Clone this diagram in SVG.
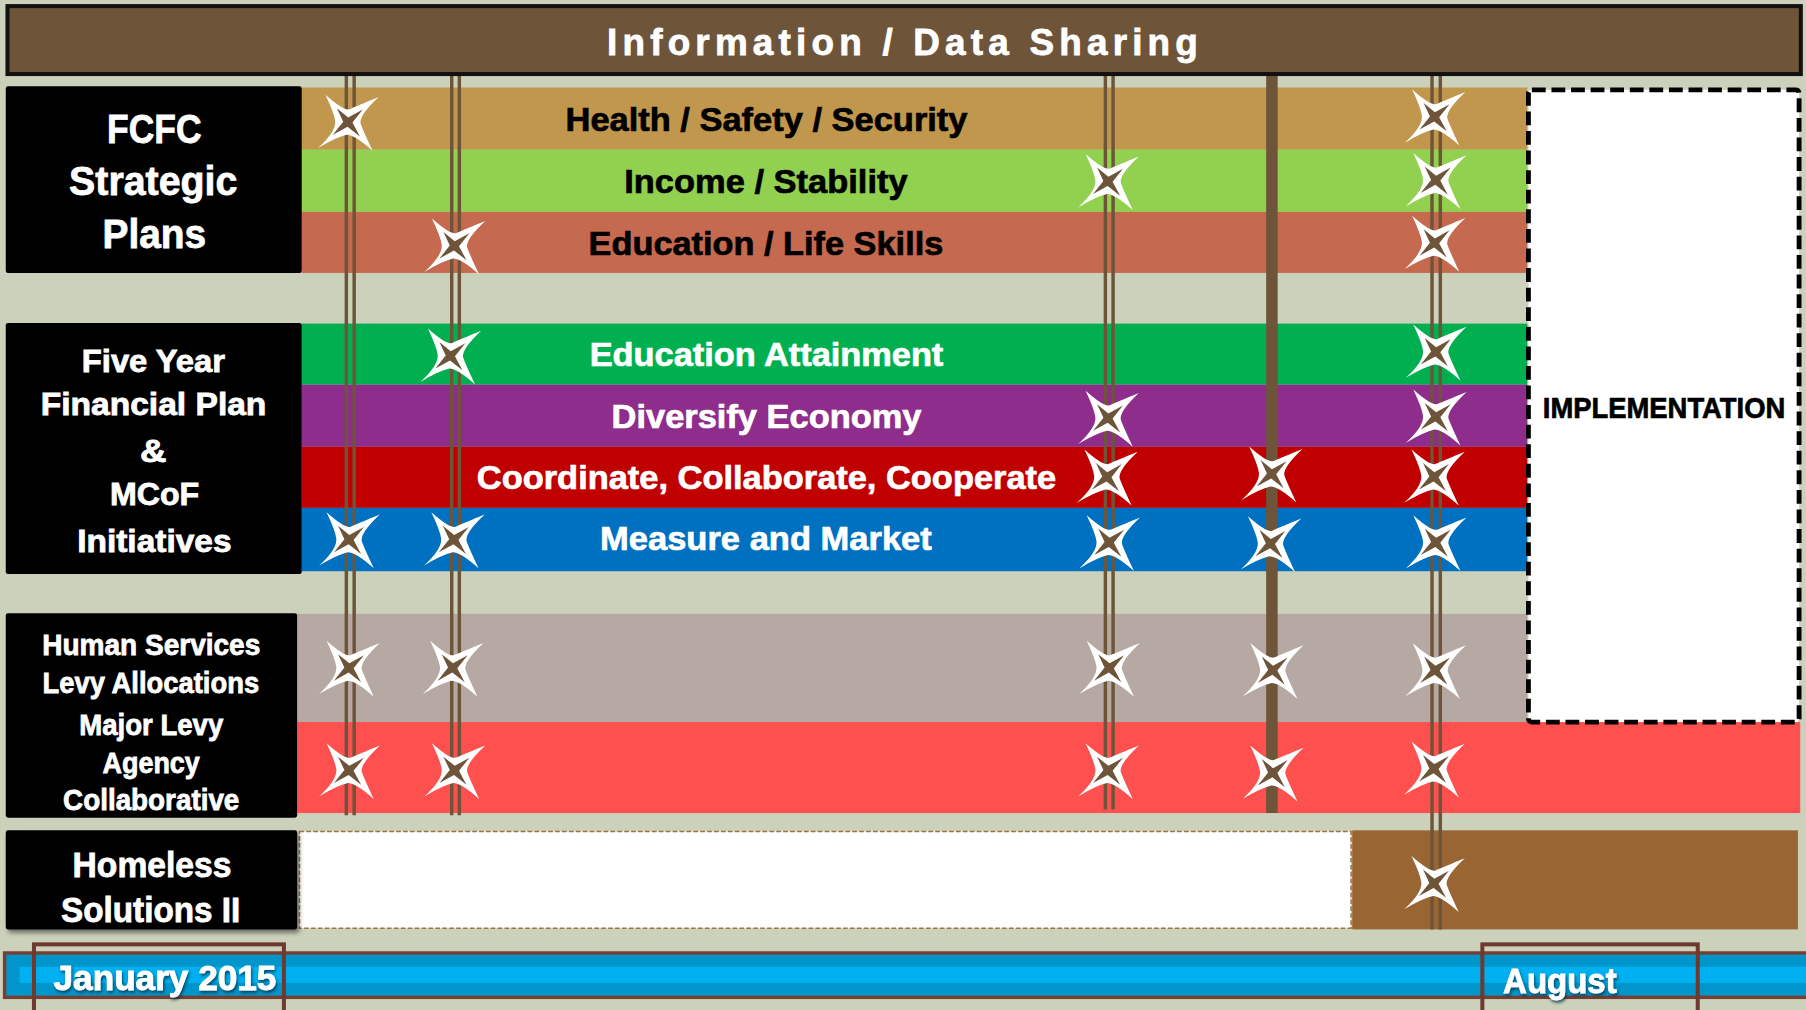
<svg xmlns="http://www.w3.org/2000/svg" xmlns:xlink="http://www.w3.org/1999/xlink" width="1806" height="1010" viewBox="0 0 1806 1010">
<defs>
<style>
.lbl{font-family:"Liberation Sans Narrow","Liberation Sans",Arial,sans-serif;font-weight:bold;fill:#fff;stroke:#fff;stroke-width:0.7px}
.band{font-family:"Liberation Sans Narrow","Liberation Sans",Arial,sans-serif;font-weight:bold;font-size:29px;stroke-width:0.6px}
.dark{fill:#000;stroke:#000}
.light{fill:#fff;stroke:#fff}
.box{fill:#000}
.vl{stroke:#6E5439;stroke-width:3;fill:none}
</style>
<filter id="shadow" x="-10%" y="-10%" width="125%" height="130%">
<feDropShadow dx="2" dy="3" stdDeviation="2" flood-color="#000" flood-opacity="0.45"/>
</filter>
<filter id="tshadow" x="-10%" y="-20%" width="125%" height="150%">
<feDropShadow dx="1" dy="2" stdDeviation="1.2" flood-color="#00304a" flood-opacity="0.8"/>
</filter>
<g id="star">
<path d="M-19.5,-23.7 Q-4,-10 1,-11 Q8,-14 26.8,-21.7 Q10,-6 11,1 Q13,7 21.5,24.9 Q6,11 -1,11 Q-10,13 -26,22.6 Q-10,8 -11,-1 Q-12,-8 -19.5,-23.7 Z" fill="#fff"/>
<polygon points="-9.5,-12 0.3,-4 13,-11 4,0.3 10.5,12.5 -0.3,4 -13,11 -4,-0.3" fill="#6E5439"/>
</g>
</defs>
<rect x="0" y="0" width="1806" height="1010" fill="#CCD1BB"/>
<g transform="scale(1.15179 1.15165)">

<g id="bands">
<rect id="band-health" x="262" y="76" width="1064" height="54" fill="#C0974C"/>
<rect id="band-income" x="262" y="130" width="1064" height="54" fill="#92D050"/>
<rect id="band-edulife" x="262" y="184" width="1064" height="53" fill="#C5694F"/>
<rect id="band-eduatt" x="262" y="281" width="1064" height="53" fill="#00B050"/>
<rect id="band-diversify" x="262" y="334" width="1064" height="54" fill="#8E2D8B"/>
<rect id="band-coord" x="262" y="388" width="1064" height="53" fill="#C00000"/>
<rect id="band-measure" x="262" y="441" width="1064" height="55" fill="#0070C0"/>
<rect id="band-human" x="258" y="533" width="1068" height="95" fill="#B6A8A3"/>
<rect id="band-levy" x="258" y="627" width="1305" height="79" fill="#FF5050"/>
<rect id="band-homeless-white" x="260" y="722" width="913" height="84" fill="#fff" stroke="#A0703F" stroke-width="1.3" stroke-dasharray="4 2"/>
<rect id="band-homeless-brown" x="1174" y="721" width="387" height="86" fill="#996633"/>
</g>

<g id="band-texts">
<text class="band dark" x="491" y="114" textLength="349" lengthAdjust="spacingAndGlyphs">Health / Safety / Security</text>
<text class="band dark" x="542" y="168" textLength="246" lengthAdjust="spacingAndGlyphs">Income / Stability</text>
<text class="band dark" x="511" y="221" textLength="308" lengthAdjust="spacingAndGlyphs">Education / Life Skills</text>
<text class="band light" x="512" y="318" textLength="307" lengthAdjust="spacingAndGlyphs">Education Attainment</text>
<text class="band light" x="531" y="372" textLength="269" lengthAdjust="spacingAndGlyphs">Diversify Economy</text>
<text class="band light" x="414" y="425" textLength="503" lengthAdjust="spacingAndGlyphs">Coordinate, Collaborate, Cooperate</text>
<text class="band light" x="521" y="478" textLength="288" lengthAdjust="spacingAndGlyphs">Measure and Market</text>
</g>

<g id="implementation">
<rect x="1327" y="78" width="235" height="549" rx="3" fill="#fff" stroke="#000" stroke-width="4.2" stroke-dasharray="12 5"/>
<text class="band dark" x="1339.5" y="363" textLength="210.5" lengthAdjust="spacingAndGlyphs" style="font-size:26px">IMPLEMENTATION</text>
</g>

<g id="connectors">
<line class="vl" x1="300.7" y1="64" x2="300.7" y2="708"/>
<line class="vl" x1="307.5" y1="64" x2="307.5" y2="708"/>
<line class="vl" x1="392.2" y1="64" x2="392.2" y2="708"/>
<line class="vl" x1="398.8" y1="64" x2="398.8" y2="708"/>
<line class="vl" x1="959.7" y1="64" x2="959.7" y2="703"/>
<line class="vl" x1="966.4" y1="64" x2="966.4" y2="703"/>
<line x1="1104.3" y1="64" x2="1104.3" y2="706" stroke="#6E5439" stroke-width="10"/>
<line class="vl" x1="1243.3" y1="64" x2="1243.3" y2="807"/>
<line class="vl" x1="1250.5" y1="64" x2="1250.5" y2="807"/>
</g>

<g id="header">
<rect x="6.5" y="5.3" width="1557" height="59" fill="#6E5439" stroke="#111" stroke-width="3.5"/>
<text class="lbl" x="527" y="48" style="font-family:'Liberation Sans',Arial,sans-serif;font-size:32px" textLength="513" lengthAdjust="spacing">Information / Data Sharing</text>
</g>

<g id="fcfc">
<rect class="box" x="5" y="75" width="257" height="162" rx="2"/>
<text class="lbl" x="93" y="124.4" font-size="36" textLength="82" lengthAdjust="spacingAndGlyphs">FCFC</text>
<text class="lbl" x="60" y="169.5" font-size="36" textLength="146" lengthAdjust="spacingAndGlyphs">Strategic</text>
<text class="lbl" x="89" y="215.6" font-size="36" textLength="90" lengthAdjust="spacingAndGlyphs">Plans</text>
</g>

<g id="five-year">
<rect class="box" x="5" y="280.5" width="257" height="218" rx="2"/>
<text class="lbl" x="71" y="322.7" font-size="27" textLength="124.4" lengthAdjust="spacingAndGlyphs">Five Year</text>
<text class="lbl" x="35.3" y="360.3" font-size="27" textLength="196" lengthAdjust="spacingAndGlyphs">Financial Plan</text>
<text class="lbl" x="121.5" y="400.8" font-size="27" textLength="23" lengthAdjust="spacingAndGlyphs">&amp;</text>
<text class="lbl" x="95.5" y="438.5" font-size="27" textLength="77.5" lengthAdjust="spacingAndGlyphs">MCoF</text>
<text class="lbl" x="67" y="479" font-size="27" textLength="134" lengthAdjust="spacingAndGlyphs">Initiatives</text>
</g>

<g id="human-services">
<rect class="box" x="5" y="532.5" width="253" height="177.5" rx="2"/>
<text class="lbl" x="36.6" y="568.7" font-size="26" textLength="189.4" lengthAdjust="spacingAndGlyphs">Human Services</text>
<text class="lbl" x="37" y="601.4" font-size="26" textLength="188" lengthAdjust="spacingAndGlyphs">Levy Allocations</text>
<text class="lbl" x="68.8" y="638" font-size="26" textLength="125" lengthAdjust="spacingAndGlyphs">Major Levy</text>
<text class="lbl" x="89" y="671" font-size="26" textLength="84.5" lengthAdjust="spacingAndGlyphs">Agency</text>
<text class="lbl" x="54.8" y="703.3" font-size="26" textLength="153" lengthAdjust="spacingAndGlyphs">Collaborative</text>
</g>

<g id="homeless">
<rect class="box" x="5" y="721" width="253" height="86" rx="2" filter="url(#shadow)"/>
<text class="lbl" x="63" y="761.1" font-size="30" textLength="138" lengthAdjust="spacingAndGlyphs">Homeless</text>
<text class="lbl" x="53" y="800.3" font-size="30" textLength="155.6" lengthAdjust="spacingAndGlyphs">Solutions II</text>
</g>

<g id="stars">
<use xlink:href="#star" transform="translate(302,106)"/>
<use xlink:href="#star" transform="translate(1245.5,101.5)"/>
<use xlink:href="#star" transform="translate(962,157.5)"/>
<use xlink:href="#star" transform="translate(1246.5,156.5)"/>
<use xlink:href="#star" transform="translate(394.5,213.5)"/>
<use xlink:href="#star" transform="translate(1245.5,211)"/>
<use xlink:href="#star" transform="translate(391,309)"/>
<use xlink:href="#star" transform="translate(1246.5,305.5)"/>
<use xlink:href="#star" transform="translate(962,363)"/>
<use xlink:href="#star" transform="translate(1246.5,362)"/>
<use xlink:href="#star" transform="translate(961,414)"/>
<use xlink:href="#star" transform="translate(1104,411.5)"/>
<use xlink:href="#star" transform="translate(1245,414)"/>
<use xlink:href="#star" transform="translate(303,468.5)"/>
<use xlink:href="#star" transform="translate(394,468.5)"/>
<use xlink:href="#star" transform="translate(963,471)"/>
<use xlink:href="#star" transform="translate(1103,472)"/>
<use xlink:href="#star" transform="translate(1246.5,471)"/>
<use xlink:href="#star" transform="translate(303,580)"/>
<use xlink:href="#star" transform="translate(393,580)"/>
<use xlink:href="#star" transform="translate(963,580)"/>
<use xlink:href="#star" transform="translate(1105,582)"/>
<use xlink:href="#star" transform="translate(1246,582)"/>
<use xlink:href="#star" transform="translate(303,669)"/>
<use xlink:href="#star" transform="translate(394.5,669)"/>
<use xlink:href="#star" transform="translate(962,669)"/>
<use xlink:href="#star" transform="translate(1105,671)"/>
<use xlink:href="#star" transform="translate(1245,667.5)"/>
<use xlink:href="#star" transform="translate(1245,767)"/>
</g>

<g id="timeline">
<rect x="4" y="827.5" width="1570" height="38.5" fill="#0096CC" stroke="#763F33" stroke-width="3"/>
<rect x="17" y="839.5" width="1560" height="14" fill="#00B0F0"/>
<rect x="29.5" y="820" width="217" height="70" fill="none" stroke="#6E3A2F" stroke-width="3.5"/>
<rect x="1287" y="820" width="187" height="70" fill="none" stroke="#6E3A2F" stroke-width="3.5"/>
<text class="lbl" x="46.5" y="859.6" font-size="30" textLength="193.5" lengthAdjust="spacingAndGlyphs" filter="url(#tshadow)">January 2015</text>
<text class="lbl" x="1305" y="862.2" font-size="30" textLength="98.6" lengthAdjust="spacingAndGlyphs" filter="url(#tshadow)">August</text>
</g>

</g>
</svg>
